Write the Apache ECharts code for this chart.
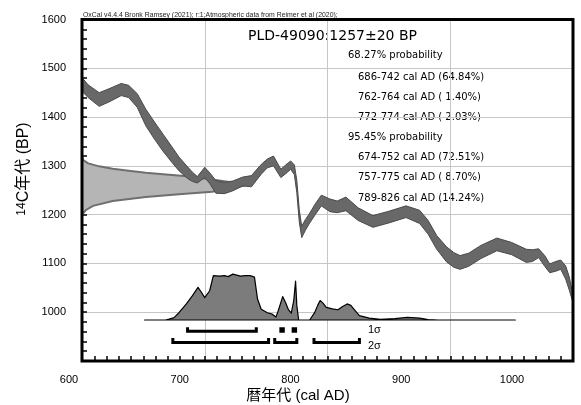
<!DOCTYPE html>
<html>
<head>
<meta charset="utf-8">
<script src="https://cdn.jsdelivr.net/npm/echarts@6/dist/echarts.min.js"></script>
<style>html,body{margin:0;padding:0;background:#fff;}#c{width:581px;height:405px;}</style>
</head>
<body>
<div id="c"></div>
<script>
// ---- Calibration curve (IntCal20 band) ----
var calYears = [600,605,614,622,632,638,645,652,659,666,673,679,686,690,694,700,704,709,716,723,731,738,746,751,756,762,766,770,773,775,777,779,782,785,790,795,802,808,815,825,837,850,864,875,882,889,897,903,908,915,925,938,950,962,967,972,977,981,986,990,994,997,1000];
var calUpper = [1481,1466,1450,1458,1469,1465,1448,1416,1390,1365,1340,1318,1298,1287,1278,1297,1286,1270,1266,1269,1277,1280,1303,1314,1320,1293,1302,1310,1302,1270,1210,1176,1190,1201,1222,1240,1232,1228,1236,1214,1198,1207,1218,1209,1188,1157,1134,1122,1116,1121,1137,1152,1143,1129,1128,1130,1116,1099,1104,1107,1095,1072,1034];
var calLower = [1453,1440,1422,1431,1444,1440,1420,1382,1355,1330,1308,1290,1274,1268,1265,1276,1264,1244,1243,1249,1259,1257,1283,1296,1300,1276,1284,1293,1282,1245,1185,1153,1168,1181,1200,1218,1206,1204,1208,1188,1174,1183,1194,1182,1160,1129,1103,1092,1088,1094,1110,1126,1118,1102,1104,1112,1094,1081,1084,1088,1068,1045,1020];

var measX  = [600,601,605,614,625,638,652,666,688,706,720,735,720,706,679,652,625,609,603,600];
var measBP = [1320,1312,1305,1299,1294,1290,1286,1283,1278,1272,1267,1261,1253,1247,1242,1236,1228,1218,1209,1200];

// ---- Calibrated probability distribution (height in BP-axis units above baseline) ----
var distYears  = [651,668,671,675,679,685,690,694.5,697,700,704,707,712,716,719,723,726,729,733,737,740.5,743,746,751,755,758,760,763.5,766,768,770.5,772.5,774,775,776.5,785.5,789.5,792,794,796.5,799,804,808.5,812,816,819,822,826,834,843,855,865,875,882,890,953];
var distHeight = [0,0,2,5,15,33,50,67,58,46,60,91,90,91,89,94,92,90,91,91,88,43,22,15,12,6,20,48,35,22,14,40,80,30,0,0,15,30,40,34,26,23,21,27,33,30,21,9,4,1.5,3,5.5,4,1,0,0];

// ---- Ranges ----
var sigma1Ranges = [[686,742],[762,764],[772,774]];
var sigma2Ranges = [[674,752],[757,775],[789,826]];

// ---- Axis ticks ----
var xTicks = [600,700,800,900,1000];
var yTicks = [1000,1100,1200,1300,1400,1500,1600];

// ---- Texts ----
var headerText = 'OxCal v4.4.4 Bronk Ramsey (2021); r:1;Atmospheric data from Reimer et al (2020);';
var sampleText = 'PLD-49090:1257\u00b120 BP';
var probLines = [
  ['68.27% probability', 0],
  ['686-742 cal AD (64.84%)', 1],
  ['762-764 cal AD ( 1.40%)', 1],
  ['772-774 cal AD ( 2.03%)', 1],
  ['95.45% probability', 0],
  ['674-752 cal AD (72.51%)', 1],
  ['757-775 cal AD ( 8.70%)', 1],
  ['789-826 cal AD (14.24%)', 1]
];

var FONT = '"Liberation Sans","Noto Sans CJK JP",sans-serif';
var FONT2 = '"DejaVu Sans","Noto Sans CJK JP",sans-serif';
var DIST_BASE = 984;
var S1_LINE = 961, S1_TOP = 969, S2_LINE = 938, S2_TOP = 947;

function polySeries(xs, ys, style, z) {
  return {
    type: 'custom', xAxisIndex: 0, yAxisIndex: 0, z: z, clip: true,
    data: [[800, 1200]],
    renderItem: function (params, api) {
      var pts = xs.map(function (x, i) { return api.coord([x, ys[i]]); });
      return { type: 'polygon', shape: { points: pts }, style: style };
    }
  };
}

var calX = calYears.concat(calYears.slice().reverse());
var calY = calUpper.concat(calLower.slice().reverse());
var distX = distYears.slice();
var distY = distHeight.map(function (h) { return DIST_BASE + h; });

function bracketSeries(ranges, lineV, topV) {
  return {
    type: 'custom', xAxisIndex: 0, yAxisIndex: 0, z: 6,
    data: ranges,
    encode: { x: [0, 1] },
    renderItem: function (params, api) {
      var s = api.value(0), e = api.value(1);
      var pts = [api.coord([s, topV]), api.coord([s, lineV]), api.coord([e, lineV]), api.coord([e, topV])];
      return { type: 'polyline', shape: { points: pts }, style: { stroke: '#000', lineWidth: 3, fill: null, lineJoin: 'miter' } };
    }
  };
}

var graphics = [
  { type: 'text', x: 83, y: 15, style: { text: headerText, font: '6.9px ' + FONT, fill: '#222', verticalAlign: 'middle' } },
  { type: 'text', x: 248, y: 36, style: { text: sampleText, font: '14px ' + FONT2, fill: '#000', verticalAlign: 'middle' } },
  { type: 'text', x: 368, y: 330, style: { text: '1\u03c3', font: '11px ' + FONT, fill: '#000', verticalAlign: 'middle' } },
  { type: 'text', x: 368, y: 346, style: { text: '2\u03c3', font: '11px ' + FONT, fill: '#000', verticalAlign: 'middle' } },
  { type: 'text', x: 298, y: 396, style: { text: '暦年代 (cal AD)', font: '15px ' + FONT, fill: '#000', align: 'center', verticalAlign: 'middle' } },
  { type: 'text', x: 24, y: 169, rotation: Math.PI / 2,
    style: { text: '{s|14}C年代 (BP)', font: '16px ' + FONT, fill: '#000', align: 'center', verticalAlign: 'middle',
      rich: { s: { fontSize: 12, fontFamily: FONT, verticalAlign: 'top', fill: '#000' } } } }
];
var ys0 = [55, 77, 97, 117, 137, 157, 177, 198];
probLines.forEach(function (p, i) {
  graphics.push({ type: 'text', x: p[1] ? 358 : 348, y: ys0[i], style: { text: p[0], font: '10px ' + FONT2, fill: '#000', verticalAlign: 'middle' } });
});

var tickStyle = { color: '#000', width: 1.5 };
var option = {
  animation: false,
  textStyle: { fontFamily: FONT },
  grid: [
    { left: 82, right: 8, top: 19.5, bottom: 44, show: true, borderColor: '#000', borderWidth: 3, backgroundColor: 'rgba(0,0,0,0)', z: 10 },
    { left: 69, width: 443, top: 19.5, bottom: 44 }
  ],
  xAxis: [
    { gridIndex: 0, type: 'value', min: 600, max: 1000, interval: 100,
      axisLine: { show: false },
      axisTick: { show: true, inside: true, length: 5, lineStyle: tickStyle },
      minorTick: { show: true, splitNumber: 10, length: 5, lineStyle: tickStyle },
      axisLabel: { show: false },
      splitLine: { show: true, lineStyle: { color: '#c6c6c6', width: 1 } } },
    { gridIndex: 1, type: 'value', min: 600, max: 1000, interval: 100,
      axisLine: { show: false }, axisTick: { show: false }, splitLine: { show: false },
      axisLabel: { margin: 13, fontSize: 11, color: '#000', fontFamily: FONT,
        formatter: function (v) { return xTicks.indexOf(v) >= 0 ? String(v) : ''; } } }
  ],
  yAxis: [
    { gridIndex: 0, type: 'value', min: 900, max: 1600, interval: 100,
      axisLine: { show: false },
      axisTick: { show: true, inside: true, length: 5, lineStyle: tickStyle },
      minorTick: { show: true, splitNumber: 5, length: 5, lineStyle: tickStyle },
      axisLabel: { margin: 16, fontSize: 11, color: '#000', fontFamily: FONT, padding: [6, 0, 0, 0],
        formatter: function (v) { return yTicks.indexOf(v) >= 0 ? String(v) : ''; } },
      splitLine: { show: true, lineStyle: { color: '#c6c6c6', width: 1 } } },
    { gridIndex: 1, type: 'value', min: 900, max: 1600, show: false }
  ],
  graphic: graphics,
  series: [
    polySeries(measX, measBP, { fill: '#b5b5b5', stroke: '#6f6f6f', lineWidth: 2 }, 2),
    polySeries(calX, calY, { fill: '#686868', stroke: '#4a4a4a', lineWidth: 1 }, 3),
    polySeries(distX, distY, { fill: '#7c7c7c', stroke: '#000', lineWidth: 1.2, lineJoin: 'round' }, 4),
    bracketSeries(sigma1Ranges, S1_LINE, S1_TOP),
    bracketSeries(sigma2Ranges, S2_LINE, S2_TOP)
  ]
};
var chart = echarts.init(document.getElementById('c'), null, { renderer: 'canvas' });
chart.setOption(option);
</script>
</body>
</html>
